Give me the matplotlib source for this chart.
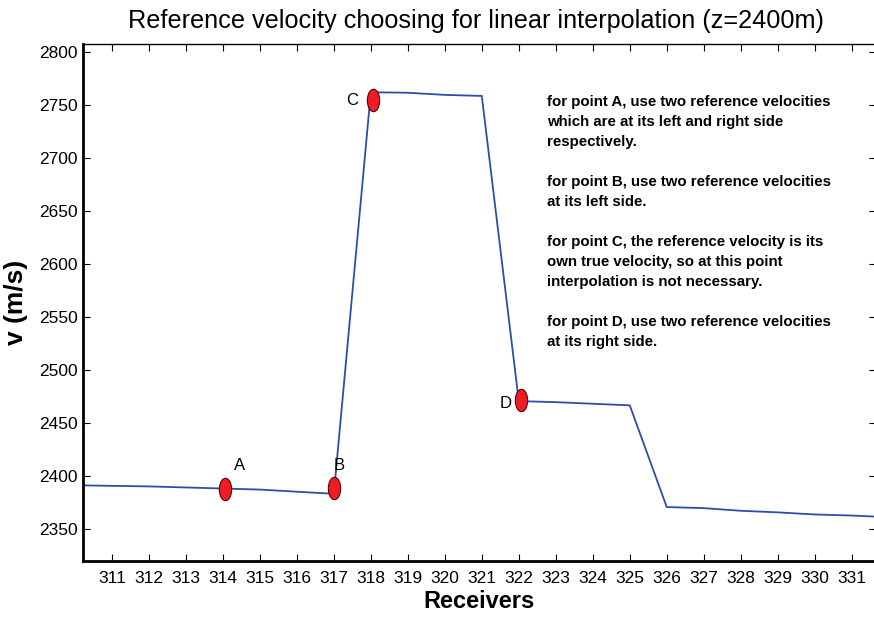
import matplotlib
matplotlib.use("Agg")
import matplotlib.pyplot as plt
from matplotlib.path import Path
import numpy as np

plt.rcParams["font.family"] = ["Liberation Sans", "DejaVu Sans"]

# velocity profile along the receivers
receivers = [310.2, 311, 312, 313, 314, 315, 316, 317, 318, 319, 320, 321,
             322, 323, 324, 325, 326, 327, 328, 329, 330, 331, 331.65]
velocity = [2391.5, 2391, 2390.5, 2389.5, 2388.5, 2387.5, 2385.5, 2383.5, 2762.5, 2762, 2760, 2759,
            2471, 2470, 2468.5, 2467, 2371, 2370, 2367.5, 2366, 2364, 2363, 2362]

# the four highlighted points
pt_names = ["A", "B", "C", "D"]
pt_x = [314.05, 317.0, 318.05, 322.05]
pt_v = [2388, 2389, 2755, 2472]
lab_x = [314.45, 317.15, 317.5, 321.65]
lab_v = [2410, 2410, 2755, 2469]

notes = ("for point A, use two reference velocities\n"
         "which are at its left and right side\n"
         "respectively.\n\n"
         "for point B, use two reference velocities\n"
         "at its left side.\n\n"
         "for point C, the reference velocity is its\n"
         "own true velocity, so at this point\n"
         "interpolation is not necessary.\n\n"
         "for point D, use two reference velocities\n"
         "at its right side.")

xticks = list(range(311, 332))
yticks = list(range(2350, 2801, 50))

fig = plt.figure(figsize=(8.74, 6.2), dpi=100)
ax = fig.add_axes([0.095, 0.095, 0.907, 0.834])

ax.plot(receivers, velocity, color="#2b4fa8", lw=1.3, zorder=2)

# tall red ellipses as markers
circ = Path.unit_circle()
ell = Path(circ.vertices * np.array([0.55, 1.0]), circ.codes)
ax.scatter(pt_x, pt_v, marker=ell, s=260, facecolor="#ee1c24",
           edgecolor="#5a0000", linewidth=0.8, zorder=3)
for n, x, v in zip(pt_names, lab_x, lab_v):
    ax.text(x, v, n, fontsize=12, ha="center", va="center")

ax.text(0.5853, 0.902, notes, transform=ax.transAxes, fontsize=10.8,
        fontweight="bold", va="top", ha="left", linespacing=1.55)

ax.set_xlim(310.22, 331.65)
ax.set_ylim(2320, 2808)
ax.set_xticks(xticks)
ax.set_yticks(yticks)
ax.tick_params(axis="both", which="both", direction="in", top=True, right=True,
               labelsize=12.5, length=5, width=0.8, pad=7)
ax.tick_params(axis="y", pad=4)

for s in ("left", "bottom"):
    ax.spines[s].set_linewidth(2.0)
ax.spines["top"].set_linewidth(1.0)
ax.spines["right"].set_visible(False)

ax.set_xlabel("Receivers", fontsize=17, fontweight="bold", labelpad=3)
ax.set_ylabel("v (m/s)", fontsize=19, fontweight="bold", labelpad=8)
fig.text(0.545, 0.966, "Reference velocity choosing for linear interpolation (z=2400m)",
         fontsize=18.2, ha="center", va="center")

fig.savefig("out.png", dpi=100)
